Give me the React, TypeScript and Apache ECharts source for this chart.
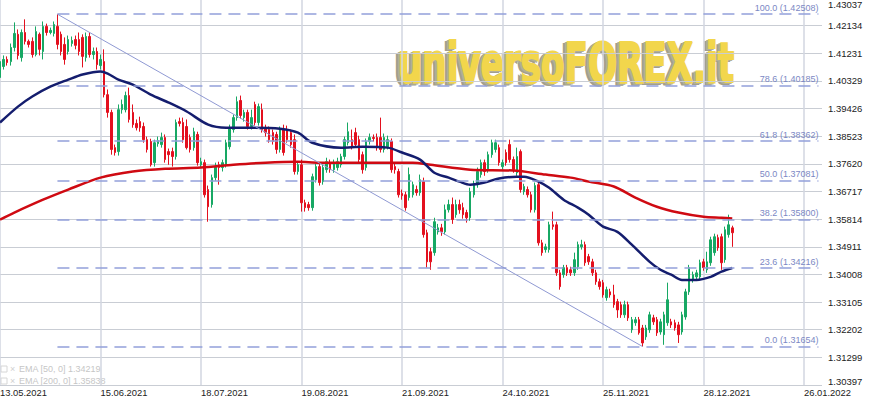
import React, { useEffect, useRef } from "react";
import * as echarts from "echarts";

// ---- data (GBP/USD daily) ----
const dateLabels = ["13.05.2021", "15.06.2021", "18.07.2021", "19.08.2021", "21.09.2021", "24.10.2021", "25.11.2021", "28.12.2021", "26.01.2022"];
const yTickLabels = ["1.30397", "1.31299", "1.32202", "1.33105", "1.34008", "1.34911", "1.35814", "1.36717", "1.37620", "1.38523", "1.39426", "1.40329", "1.41231", "1.42134", "1.43037"];

const opens = [
  1.4044, 1.4080, 1.4103, 1.4096, 1.4142, 1.4185, 1.4109, 1.4191, 1.4162, 1.4162,
  1.4119, 1.4185, 1.4129, 1.4211, 1.4191, 1.4188, 1.4211, 1.4185, 1.4152, 1.4129,
  1.4155, 1.4168, 1.4168, 1.4175, 1.4109, 1.4178, 1.4119, 1.4129, 1.4083, 1.4096,
  1.3988, 1.3930, 1.3815, 1.3802, 1.3939, 1.3939, 1.3985, 1.3930, 1.3894, 1.3900,
  1.3884, 1.3841, 1.3835, 1.3766, 1.3828, 1.3825, 1.3848, 1.3802, 1.3802, 1.3786,
  1.3900, 1.3897, 1.3884, 1.3848, 1.3815, 1.3858, 1.3759, 1.3766, 1.3678, 1.3629,
  1.3717, 1.3759, 1.3750, 1.3759, 1.3818, 1.3874, 1.3913, 1.3969, 1.3913, 1.3930,
  1.3884, 1.3956, 1.3897, 1.3939, 1.3880, 1.3874, 1.3864, 1.3858, 1.3809, 1.3874,
  1.3874, 1.3864, 1.3841, 1.3737, 1.3759, 1.3635, 1.3629, 1.3619, 1.3710, 1.3753,
  1.3704, 1.3743, 1.3766, 1.3743, 1.3750, 1.3759, 1.3786, 1.3831, 1.3841, 1.3864,
  1.3841, 1.3792, 1.3750, 1.3835, 1.3848, 1.3848, 1.3848, 1.3809, 1.3818, 1.3835,
  1.3753, 1.3737, 1.3665, 1.3661, 1.3652, 1.3661, 1.3678, 1.3668, 1.3704, 1.3537,
  1.3475, 1.3472, 1.3540, 1.3553, 1.3540, 1.3612, 1.3629, 1.3596, 1.3629, 1.3619,
  1.3603, 1.3586, 1.3661, 1.3694, 1.3727, 1.3766, 1.3743, 1.3792, 1.3809, 1.3815,
  1.3753, 1.3799, 1.3825, 1.3776, 1.3733, 1.3802, 1.3671, 1.3678, 1.3661, 1.3612,
  1.3694, 1.3504, 1.3482, 1.3482, 1.3563, 1.3563, 1.3406, 1.3400, 1.3423, 1.3416,
  1.3406, 1.3426, 1.3491, 1.3498, 1.3459, 1.3442, 1.3406, 1.3377, 1.3374, 1.3325,
  1.3344, 1.3334, 1.3312, 1.3302, 1.3269, 1.3302, 1.3220, 1.3243, 1.3253, 1.3226,
  1.3197, 1.3220, 1.3259, 1.3253, 1.3213, 1.3204, 1.3243, 1.3246, 1.3243, 1.3236,
  1.3213, 1.3262, 1.3344, 1.3383, 1.3393, 1.3393, 1.3442, 1.3416, 1.3439, 1.3472,
  1.3521, 1.3524, 1.3449, 1.3531, 1.3553,
];
const closes = [
  1.4096, 1.4103, 1.4093, 1.4142, 1.4188, 1.4116, 1.4191, 1.4162, 1.4152, 1.4119,
  1.4194, 1.4136, 1.4211, 1.4191, 1.4198, 1.4217, 1.4152, 1.4129, 1.4103, 1.4168,
  1.4165, 1.4149, 1.4129, 1.4113, 1.4178, 1.4119, 1.4129, 1.4086, 1.4103, 1.3988,
  1.3930, 1.3809, 1.3799, 1.3939, 1.3956, 1.3985, 1.3907, 1.3890, 1.3880, 1.3880,
  1.3841, 1.3809, 1.3759, 1.3831, 1.3838, 1.3848, 1.3776, 1.3792, 1.3786, 1.3897,
  1.3894, 1.3841, 1.3815, 1.3809, 1.3867, 1.3766, 1.3769, 1.3661, 1.3622, 1.3717,
  1.3753, 1.3750, 1.3766, 1.3831, 1.3880, 1.3913, 1.3965, 1.3920, 1.3930, 1.3884,
  1.3913, 1.3897, 1.3949, 1.3874, 1.3864, 1.3841, 1.3835, 1.3809, 1.3874, 1.3799,
  1.3841, 1.3825, 1.3737, 1.3759, 1.3635, 1.3619, 1.3619, 1.3720, 1.3753, 1.3701,
  1.3750, 1.3769, 1.3743, 1.3766, 1.3769, 1.3786, 1.3841, 1.3867, 1.3818, 1.3825,
  1.3776, 1.3743, 1.3835, 1.3848, 1.3845, 1.3815, 1.3809, 1.3848, 1.3841, 1.3743,
  1.3743, 1.3661, 1.3658, 1.3619, 1.3727, 1.3694, 1.3668, 1.3710, 1.3531, 1.3442,
  1.3442, 1.3573, 1.3553, 1.3540, 1.3612, 1.3629, 1.3580, 1.3629, 1.3612, 1.3596,
  1.3586, 1.3671, 1.3694, 1.3737, 1.3766, 1.3737, 1.3792, 1.3831, 1.3831, 1.3766,
  1.3766, 1.3766, 1.3776, 1.3743, 1.3786, 1.3678, 1.3688, 1.3661, 1.3612, 1.3691,
  1.3504, 1.3472, 1.3491, 1.3563, 1.3557, 1.3406, 1.3361, 1.3423, 1.3406, 1.3406,
  1.3449, 1.3498, 1.3498, 1.3439, 1.3442, 1.3406, 1.3377, 1.3361, 1.3334, 1.3351,
  1.3334, 1.3302, 1.3285, 1.3269, 1.3302, 1.3259, 1.3253, 1.3253, 1.3210, 1.3177,
  1.3226, 1.3269, 1.3246, 1.3210, 1.3246, 1.3269, 1.3318, 1.3236, 1.3226, 1.3204,
  1.3269, 1.3344, 1.3423, 1.3400, 1.3406, 1.3439, 1.3423, 1.3442, 1.3514, 1.3524,
  1.3488, 1.3439, 1.3547, 1.3563, 1.3537,
];
const lows = [
  1.4037, 1.4070, 1.4083, 1.4083, 1.4129, 1.4103, 1.4096, 1.4152, 1.4142, 1.4109,
  1.4113, 1.4116, 1.4103, 1.4181, 1.4185, 1.4178, 1.4136, 1.4116, 1.4086, 1.4119,
  1.4145, 1.4136, 1.4116, 1.4077, 1.4096, 1.4109, 1.4103, 1.4070, 1.4070, 1.3979,
  1.3913, 1.3792, 1.3789, 1.3789, 1.3926, 1.3930, 1.3897, 1.3880, 1.3871, 1.3867,
  1.3831, 1.3799, 1.3753, 1.3753, 1.3818, 1.3815, 1.3766, 1.3759, 1.3753, 1.3776,
  1.3884, 1.3831, 1.3809, 1.3799, 1.3805, 1.3756, 1.3750, 1.3652, 1.3573, 1.3619,
  1.3707, 1.3694, 1.3737, 1.3750, 1.3809, 1.3864, 1.3903, 1.3910, 1.3900, 1.3874,
  1.3874, 1.3887, 1.3887, 1.3864, 1.3851, 1.3831, 1.3825, 1.3795, 1.3799, 1.3789,
  1.3831, 1.3815, 1.3727, 1.3727, 1.3606, 1.3606, 1.3609, 1.3609, 1.3701, 1.3691,
  1.3694, 1.3733, 1.3733, 1.3733, 1.3740, 1.3750, 1.3776, 1.3822, 1.3809, 1.3815,
  1.3766, 1.3730, 1.3740, 1.3825, 1.3835, 1.3805, 1.3799, 1.3799, 1.3809, 1.3733,
  1.3730, 1.3652, 1.3645, 1.3609, 1.3642, 1.3652, 1.3658, 1.3658, 1.3521, 1.3423,
  1.3416, 1.3462, 1.3531, 1.3527, 1.3531, 1.3603, 1.3566, 1.3586, 1.3599, 1.3583,
  1.3570, 1.3576, 1.3652, 1.3684, 1.3717, 1.3723, 1.3733, 1.3782, 1.3799, 1.3756,
  1.3743, 1.3756, 1.3766, 1.3733, 1.3723, 1.3668, 1.3661, 1.3652, 1.3603, 1.3603,
  1.3495, 1.3462, 1.3472, 1.3472, 1.3547, 1.3396, 1.3351, 1.3390, 1.3396, 1.3396,
  1.3396, 1.3416, 1.3482, 1.3429, 1.3432, 1.3396, 1.3367, 1.3351, 1.3325, 1.3315,
  1.3325, 1.3292, 1.3259, 1.3259, 1.3259, 1.3249, 1.3210, 1.3233, 1.3204, 1.31654,
  1.3187, 1.3210, 1.3236, 1.3200, 1.3204, 1.3171, 1.3233, 1.3226, 1.3217, 1.3177,
  1.3204, 1.3253, 1.3334, 1.3374, 1.3383, 1.3383, 1.3413, 1.3406, 1.3429, 1.3462,
  1.3478, 1.3416, 1.3439, 1.3521, 1.3491,
];
const highs = [
  1.4109, 1.4116, 1.4113, 1.4155, 1.4224, 1.4201, 1.4201, 1.4234, 1.4168, 1.4175,
  1.4211, 1.4191, 1.4227, 1.4220, 1.4207, 1.4227, 1.42508, 1.4194, 1.4175, 1.4181,
  1.4178, 1.4181, 1.4191, 1.4185, 1.4191, 1.4191, 1.4142, 1.4142, 1.4119, 1.4136,
  1.4005, 1.3939, 1.3825, 1.3956, 1.3972, 1.3998, 1.4011, 1.3956, 1.3907, 1.3916,
  1.3897, 1.3851, 1.3844, 1.3841, 1.3851, 1.3864, 1.3858, 1.3812, 1.3815, 1.3907,
  1.3913, 1.3913, 1.3907, 1.3858, 1.3880, 1.3867, 1.3782, 1.3776, 1.3691, 1.3727,
  1.3766, 1.3769, 1.3776, 1.3841, 1.3890, 1.3923, 1.3982, 1.3985, 1.3939, 1.3939,
  1.3939, 1.3965, 1.3959, 1.3959, 1.3890, 1.3884, 1.3874, 1.3867, 1.3884, 1.3890,
  1.3887, 1.3874, 1.3858, 1.3769, 1.3776, 1.3645, 1.3638, 1.3730, 1.3763, 1.3763,
  1.3759, 1.3782, 1.3776, 1.3776, 1.3782, 1.3795, 1.3851, 1.3897, 1.3874, 1.3880,
  1.3854, 1.3802, 1.3845, 1.3861, 1.3858, 1.3861, 1.3913, 1.3861, 1.3854, 1.3845,
  1.3763, 1.3746, 1.3678, 1.3671, 1.3750, 1.3704, 1.3691, 1.3727, 1.3717, 1.3547,
  1.3488, 1.3586, 1.3566, 1.3566, 1.3629, 1.3645, 1.3652, 1.3645, 1.3645, 1.3635,
  1.3612, 1.3684, 1.3707, 1.3750, 1.3776, 1.3776, 1.3802, 1.3841, 1.3841, 1.3825,
  1.3776, 1.3809, 1.3841, 1.3786, 1.3815, 1.3809, 1.3697, 1.3688, 1.3671, 1.3701,
  1.3704, 1.3514, 1.3501, 1.3573, 1.3606, 1.3573, 1.3416, 1.3432, 1.3432, 1.3426,
  1.3472, 1.3508, 1.3514, 1.3508, 1.3468, 1.3452, 1.3416, 1.3387, 1.3383, 1.3361,
  1.3354, 1.3367, 1.3321, 1.3312, 1.3315, 1.3312, 1.3262, 1.3262, 1.3262, 1.3236,
  1.3236, 1.3279, 1.3269, 1.3262, 1.3256, 1.3279, 1.3374, 1.3256, 1.3253, 1.3246,
  1.3279, 1.3354, 1.3432, 1.3410, 1.3416, 1.3449, 1.3452, 1.3475, 1.3524, 1.3534,
  1.3531, 1.3534, 1.3557, 1.3596, 1.3560,
];

// EMA curves, read at sample candles
const ema50Index = [0, 5, 9, 14, 19, 23, 28, 30, 33, 37, 42, 47, 52, 58, 63, 70, 78, 83, 87, 95, 101, 108, 112, 117, 121, 125, 128, 131, 135, 139, 144, 146, 150, 153, 157, 161, 164, 168, 172, 176, 181, 184, 187, 190, 194, 198, 201, 204];
const ema50Values = [1.3897, 1.3949, 1.3982, 1.4014, 1.4037, 1.4054, 1.4064, 1.4057, 1.4037, 1.4021, 1.3988, 1.3962, 1.3933, 1.3890, 1.3880, 1.3880, 1.3877, 1.3864, 1.3831, 1.3815, 1.3818, 1.3815, 1.3799, 1.3776, 1.3733, 1.3717, 1.3704, 1.3694, 1.3701, 1.3714, 1.3720, 1.3720, 1.3704, 1.3684, 1.3645, 1.3619, 1.3596, 1.3557, 1.3540, 1.3498, 1.3442, 1.3416, 1.3400, 1.3383, 1.3383, 1.3393, 1.3410, 1.34219];
const ema200Index = [0, 4, 12, 19, 28, 37, 46, 56, 65, 74, 83, 89, 101, 115, 120, 131, 143, 152, 159, 164, 171, 177, 183, 189, 196, 201, 204];
const ema200Values = [1.3580, 1.3603, 1.3645, 1.3678, 1.3717, 1.3737, 1.3746, 1.3750, 1.3759, 1.3766, 1.3769, 1.3766, 1.3766, 1.3766, 1.3759, 1.3743, 1.3740, 1.3727, 1.3717, 1.3704, 1.3688, 1.3652, 1.3622, 1.3603, 1.3589, 1.3586, 1.35838];

// Fibonacci retracement from the high (candle 16) to the low (candle 179)
const fibRatios = ["100.0", "78.6", "61.8", "50.0", "38.2", "23.6", "0.0"];
const fibValues = [1.42508, 1.40185, 1.38362, 1.37081, 1.358, 1.34216, 1.31654];
const fibHighIndex = 16;
const fibLowIndex = 179;

// ---- layout constants ----
const SLOT_COUNT = 230;
const LABEL_EVERY = 28;
const FIB_END = 228;
const Y_MIN = 1.30397;
const Y_MAX = 1.43037;
const Y_STEP = (Y_MAX - Y_MIN) / 14;
const FONT = "'Liberation Sans', Arial, sans-serif";
const WATERMARK = "universoFOREX.it";
const WM_FONT = "bold 55px 'DejaVu Sans Condensed', 'DejaVu Sans', sans-serif";

export default function App() {
  const ref = useRef<HTMLDivElement>(null);

  useEffect(() => {
    if (!ref.current) return;
    const chart = echarts.init(ref.current, null, { renderer: "svg" });

    const slots = Array.from({ length: SLOT_COUNT }, (_, i) => String(i));
    const candles = opens.map((o, i) => [o, closes[i], lows[i], highs[i]]);
    const ema50 = opens.map(() => null as number | null);
    ema50Index.forEach((ix, k) => (ema50[ix] = ema50Values[k]));
    const ema200 = opens.map(() => null as number | null);
    ema200Index.forEach((ix, k) => (ema200[ix] = ema200Values[k]));

    // watermark width fit
    let wmScale = 0.7;
    try {
      const c = document.createElement("canvas").getContext("2d");
      if (c) {
        c.font = WM_FONT;
        const w = c.measureText(WATERMARK).width;
        if (w > 0) wmScale = 336 / w;
      }
    } catch (e) {}

    const isLabelSlot = (i: number) => i % LABEL_EVERY === 0;
    const lastTick = yTickLabels.length - 1;
    const wmText = (x: number, y: number, fill: string, stroke: string) => ({
      type: "text",
      x,
      y,
      scaleX: wmScale,
      style: { text: WATERMARK, font: WM_FONT, fill, stroke, lineWidth: 2.2, textVerticalAlign: "middle" },
    });

    const option: any = {
      animation: false,
      backgroundColor: "#ffffff",
      grid: { left: 0, right: 48, top: -2, bottom: 16, containLabel: false, outerBoundsMode: "none" },
      xAxis: {
        type: "category",
        data: slots,
        boundaryGap: false,
        axisLine: { show: false },
        axisTick: { show: false },
        axisLabel: {
          interval: (i: number) => isLabelSlot(i),
          formatter: (_v: string, i: number) => (isLabelSlot(i) ? dateLabels[i / LABEL_EVERY] ?? "" : ""),
          align: "left",
          color: "#222222",
          fontSize: 9.4,
          fontFamily: FONT,
          margin: 3,
          hideOverlap: false,
        },
        splitLine: {
          show: true,
          interval: (i: number) => isLabelSlot(i),
          lineStyle: { color: "#d2d6e0", width: 1.5 },
        },
      },
      yAxis: {
        type: "value",
        position: "right",
        min: Y_MIN,
        max: Y_MAX,
        interval: Y_STEP,
        axisLine: { show: false },
        axisTick: { show: false },
        axisLabel: {
          formatter: (v: number) => {
            const k = Math.round((v - Y_MIN) / Y_STEP);
            const t = yTickLabels[k] ?? "";
            if (k === 0) return `{lo|${t}}`;
            if (k === lastTick) return `{hi|${t}}`;
            return t;
          },
          color: "#222222",
          fontSize: 9.5,
          fontFamily: FONT,
          margin: 6,
          rich: {
            lo: { color: "#222222", fontSize: 9.5, fontFamily: FONT, padding: [0, 0, 7, 0] },
            hi: { color: "#222222", fontSize: 9.5, fontFamily: FONT, padding: [13, 0, 0, 0] },
          },
        },
        splitLine: { lineStyle: { color: "#c9cdd4", width: 1 } },
      },
      series: [
        {
          type: "candlestick",
          data: candles,
          barWidth: 2,
          itemStyle: {
            color: "#17a864",
            color0: "#e3101e",
            borderColor: "#17a864",
            borderColor0: "#e3101e",
            borderWidth: 1,
          },
          markLine: {
            silent: true,
            symbol: ["none", "none"],
            lineStyle: { color: "#93a0da", width: 1.5, type: [12, 7] },
            label: {
              show: true,
              position: "insideEndTop",
              formatter: "{b}",
              color: "#7b88c4",
              fontSize: 9,
              fontFamily: FONT,
              distance: [0, 2],
            },
            data: fibValues.map((v, k) => [
              { name: `${fibRatios[k]} (${v.toFixed(5)})`, coord: [String(fibHighIndex), v] },
              { coord: [String(FIB_END), v] },
            ]),
          },
        },
        {
          type: "line",
          data: ema200,
          connectNulls: true,
          smooth: 0.3,
          showSymbol: false,
          lineStyle: { color: "#cf0a12", width: 2.5 },
          z: 3,
        },
        {
          type: "line",
          data: ema50,
          connectNulls: true,
          smooth: 0.3,
          showSymbol: false,
          lineStyle: { color: "#141d6e", width: 2.5 },
          z: 4,
          markLine: {
            silent: true,
            symbol: ["none", "none"],
            label: { show: false },
            lineStyle: { color: "#8f99d3", width: 1, type: "solid" },
            data: [
              [
                { coord: [String(fibHighIndex), fibValues[0]] },
                { coord: [String(fibLowIndex), fibValues[fibValues.length - 1]] },
              ],
            ],
          },
        },
      ],
      graphic: [
        {
          type: "group",
          silent: true,
          z: 100,
          children: [
            wmText(394, 64.5, "#a29f8e", "#a29f8e"),
            wmText(396, 63.7, "#b3af98", "#b3af98"),
            wmText(398, 63, "#f2d64c", "#f2d64c"),
          ],
        },
        { type: "rect", shape: { x: 1, y: 366, width: 6, height: 6 }, style: { fill: "none", stroke: "#d6d6d6", lineWidth: 1 } },
        { type: "text", x: 10, y: 369, style: { text: "×", fill: "#cfcfcf", font: `9px ${FONT}`, textVerticalAlign: "middle" } },
        { type: "text", x: 19, y: 369, style: { text: `EMA [50, 0] ${ema50Values[ema50Values.length - 1].toFixed(5)}`, fill: "#c6c6c6", font: `9px ${FONT}`, textVerticalAlign: "middle" } },
        { type: "rect", shape: { x: 1, y: 378, width: 6, height: 6 }, style: { fill: "none", stroke: "#d6d6d6", lineWidth: 1 } },
        { type: "text", x: 10, y: 381, style: { text: "×", fill: "#cfcfcf", font: `9px ${FONT}`, textVerticalAlign: "middle" } },
        { type: "text", x: 19, y: 381, style: { text: `EMA [200, 0] ${ema200Values[ema200Values.length - 1].toFixed(5)}`, fill: "#c6c6c6", font: `9px ${FONT}`, textVerticalAlign: "middle" } },
      ],
    };

    chart.setOption(option);
    return () => chart.dispose();
  }, []);

  return (
    <div
      ref={ref}
      style={{ position: "absolute", left: 0, top: 0, width: 870, height: 401, background: "#ffffff" }}
    />
  );
}
